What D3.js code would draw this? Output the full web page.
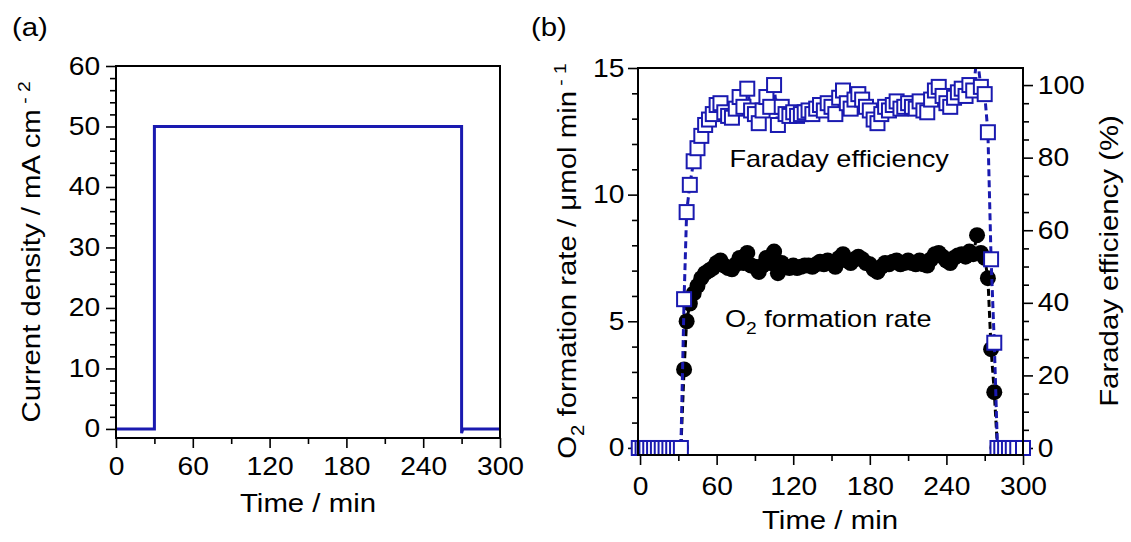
<!DOCTYPE html>
<html>
<head>
<meta charset="utf-8">
<script src="https://cdn.jsdelivr.net/npm/d3@7"></script>
<style>
  body { margin: 0; background: #fff; }
  text { font-family: "Liberation Sans", Arial, sans-serif; fill: #000; }
</style>
</head>
<body>
<svg id="chart" width="1131" height="542"></svg>
<script>
// ----- panel (a): current density -----
var timeA = [0, 30, 30, 270, 270, 271, 300];
var currentA = [0, 0, 50, 50, -0.7, 0, 0];

// ----- panel (b): O2 formation rate and Faraday efficiency -----
var timeB = [-1, 2, 5, 8, 11, 14, 17, 20, 23, 26, 29, 32,
    34.5, 36.5, 39, 42, 45, 48, 51, 54, 57, 60, 63, 66, 69, 72, 75, 78, 81, 84, 87, 90,
    93, 96, 99, 102, 105, 108, 111, 114, 117, 120, 123, 126, 129, 132, 135, 138, 141, 144,
    147, 150, 153, 156, 159, 162, 165, 168, 171, 174, 177, 180, 183, 186, 189, 192, 195,
    198, 201, 204, 207, 210, 213, 216, 219, 222, 225, 228, 231, 234, 237, 240, 243, 246,
    249, 252, 255, 258, 261, 264, 267, 270, 272.5, 275, 277.5,
    280, 283, 286, 289, 292, 295.5, 300];
var o2Rate = [0, 0, 0, 0, 0, 0, 0, 0, 0, 0, 0, 0,
    3.1, 5.0, 5.7, 6.1, 6.4, 6.7, 6.9, 7.0, 7.1, 7.3, 7.4, 7.2, 7.1, 7.05, 7.25, 7.5, 7.3, 7.7, 7.2, 7.15,
    6.95, 7.2, 7.5, 7.3, 7.75, 6.9, 7.3, 7.15, 7.1, 7.2, 7.1, 7.15, 7.2, 7.2, 7.15, 7.25, 7.35, 7.25,
    7.4, 7.3, 7.15, 7.5, 7.65, 7.4, 7.3, 7.45, 7.55, 7.45, 7.3, 7.25, 7.05, 6.95, 7.15, 7.3, 7.25,
    7.35, 7.4, 7.25, 7.3, 7.4, 7.3, 7.25, 7.4, 7.25, 7.2, 7.45, 7.65, 7.7, 7.55, 7.4, 7.3, 7.5,
    7.6, 7.65, 7.55, 7.75, 7.65, 8.4, 7.7, 7.5, 6.7, 3.9, 2.2,
    0, 0, 0, 0, 0, 0, 0];
var faradayEff = [0, 0, 0, 0, 0, 0, 0, 0, 0, 0, 0, 0,
    41, 65, 72.5, 79, 82.6, 86, 89, 90.5, 92, 94.5, 95, 92.5, 91.5, 91, 93.5, 96.7, 94, 99, 93, 92,
    89.5, 93, 96.7, 94, 100, 89, 94, 92, 91.5, 92.5, 91.5, 92, 92.5, 93, 92, 93.5, 94.5, 93,
    95, 94, 92, 96.5, 98.5, 95, 93.5, 96, 97.5, 96, 94, 93, 90.5, 89.5, 92, 94, 93,
    94.5, 95.5, 93.5, 94, 95, 94, 93.5, 95.5, 93, 92.5, 96, 98.5, 99.5, 97, 95, 94, 96.5,
    98, 99, 97, 100, 98.5, 108, 99.5, 97.5, 87, 52, 29,
    0, 0, 0, 0, 0, 0, 0];

var timeTicks = [0, 60, 120, 180, 240, 300];
var timeMinor = [30, 90, 150, 210, 270];

var blue = "#1a1ab0";
var stretch = "scale(1.13,1)";   // fonts in the figure are wider than Arial

var svg = d3.select("#chart");

// helper: draw one axis (minor + major ticks) and style it
function drawAxis(axisFn, scale, pos, isX, major, minor, padding) {
    var tr = isX ? "translate(0," + pos + ")" : "translate(" + pos + ",0)";
    svg.append("g").attr("transform", tr)
        .call(axisFn(scale).tickValues(minor).tickSize(6).tickFormat(""));
    var g = svg.append("g").attr("transform", tr)
        .call(axisFn(scale).tickValues(major).tickSize(10).tickPadding(padding));
    g.selectAll("text")
        .style("font-size", "25px")
        .attr("fill", "#000")
        .attr("transform", stretch);
}

function addText(x, y, rot, size, str, color) {
    return svg.append("text")
        .attr("transform", "translate(" + x + "," + y + ")" + (rot ? " rotate(" + rot + ")" : "") + " " + stretch)
        .attr("text-anchor", rot ? "middle" : "start")
        .style("font-size", size + "px")
        .attr("fill", color || "#000")
        .text(str);
}

// =============== PANEL (a) ===============
var xA = d3.scaleLinear().domain([0, 300]).range([116, 500]);
var yA = d3.scaleLinear().domain([-1.5, 60]).range([438, 66]);

drawAxis(d3.axisBottom, xA, 438, true, timeTicks, timeMinor, 9);
drawAxis(d3.axisLeft, yA, 116, false, d3.range(0, 61, 10), d3.range(2, 60, 2).filter(function (d) { return d % 10; }), 4);

svg.append("path")
    .datum(d3.zip(timeA, currentA))
    .attr("fill", "none")
    .attr("stroke", blue)
    .attr("stroke-width", 3)
    .attr("d", d3.line().x(function (d) { return xA(d[0]); }).y(function (d) { return yA(d[1]); }));

svg.append("rect")
    .attr("x", 116).attr("y", 66).attr("width", 384).attr("height", 372)
    .attr("fill", "none").attr("stroke", "#000").attr("stroke-width", 2);

addText(12, 36, 0, 26, "(a)");
addText(308, 512, 0, 26, "Time / min").attr("text-anchor", "middle");
var tA = addText(40, 252, -90, 26, "Current density / mA cm");
tA.append("tspan").attr("dy", -10).style("font-size", "17px").text(" - 2");

// =============== PANEL (b) ===============
var xB = d3.scaleLinear().domain([-1.6, 300]).range([638, 1023]);
var yL = d3.scaleLinear().domain([-0.28, 15]).range([455, 68]);
var yR = d3.scaleLinear().domain([-1.93, 104.7]).range([455, 68]);

drawAxis(d3.axisBottom, xB, 455, true, timeTicks, timeMinor, 12);
drawAxis(d3.axisLeft, yL, 638, false, [0, 5, 10, 15], d3.range(1, 15).filter(function (d) { return d % 5; }), 2);
drawAxis(d3.axisRight, yR, 1023, false, d3.range(0, 101, 20), d3.range(5, 101, 5).filter(function (d) { return d % 20; }), 3);

svg.selectAll(".domain").remove();
svg.selectAll(".tick line").attr("stroke", "#000").attr("stroke-width", 1.6);

// clip only the top of the plot (out-of-range point in the FE series)
svg.append("clipPath").attr("id", "clipB")
    .append("rect").attr("x", 0).attr("y", 68).attr("width", 1131).attr("height", 474);

var ptsB = timeB.map(function (t, i) { return { t: t, o2: o2Rate[i], fe: faradayEff[i] }; });

svg.append("path")
    .datum(ptsB)
    .attr("clip-path", "url(#clipB)")
    .attr("fill", "none").attr("stroke", "#000").attr("stroke-width", 3)
    .attr("stroke-dasharray", "7,4")
    .attr("d", d3.line().x(function (d) { return xB(d.t); }).y(function (d) { return yL(d.o2); }));

svg.append("g").selectAll("circle")
    .data(ptsB.filter(function (d) { return d.o2 <= 15; }))
    .enter().append("circle")
    .attr("cx", function (d) { return xB(d.t); })
    .attr("cy", function (d) { return yL(d.o2); })
    .attr("r", 8)
    .attr("fill", "#000");

svg.append("path")
    .datum(ptsB)
    .attr("clip-path", "url(#clipB)")
    .attr("fill", "none").attr("stroke", blue).attr("stroke-width", 3)
    .attr("stroke-dasharray", "7,4")
    .attr("d", d3.line().x(function (d) { return xB(d.t); }).y(function (d) { return yR(d.fe); }));

svg.append("g").selectAll("rect")
    .data(ptsB.filter(function (d) { return d.fe <= 104.7; }))
    .enter().append("rect")
    .attr("x", function (d) { return xB(d.t) - 7; })
    .attr("y", function (d) { return yR(d.fe) - 7; })
    .attr("width", 14).attr("height", 14)
    .attr("fill", "#fff")
    .attr("stroke", blue)
    .attr("stroke-width", 2);

svg.append("rect")
    .attr("x", 638).attr("y", 68).attr("width", 385).attr("height", 387)
    .attr("fill", "none").attr("stroke", "#000").attr("stroke-width", 2);

addText(531, 36, 0, 26, "(b)");
addText(830, 529, 0, 26, "Time / min").attr("text-anchor", "middle");

var tL = addText(576, 261, -90, 26, "O");
tL.append("tspan").attr("dy", 8).style("font-size", "18px").text("2");
tL.append("tspan").attr("dy", -8).text("  formation rate / \u03bcmol min");
tL.append("tspan").attr("dy", -10).style("font-size", "17px").text(" - 1");

addText(1118, 261, -90, 26, "Faraday efficiency (%)");

addText(xB(70), yL(11.1), 0, 24, "Faraday efficiency", blue);
var tO = addText(xB(66.5), yL(4.78), 0, 24, "O");
tO.append("tspan").attr("dy", 7).style("font-size", "17px").text("2");
tO.append("tspan").attr("dy", -7).text("  formation rate");
</script>
</body>
</html>
